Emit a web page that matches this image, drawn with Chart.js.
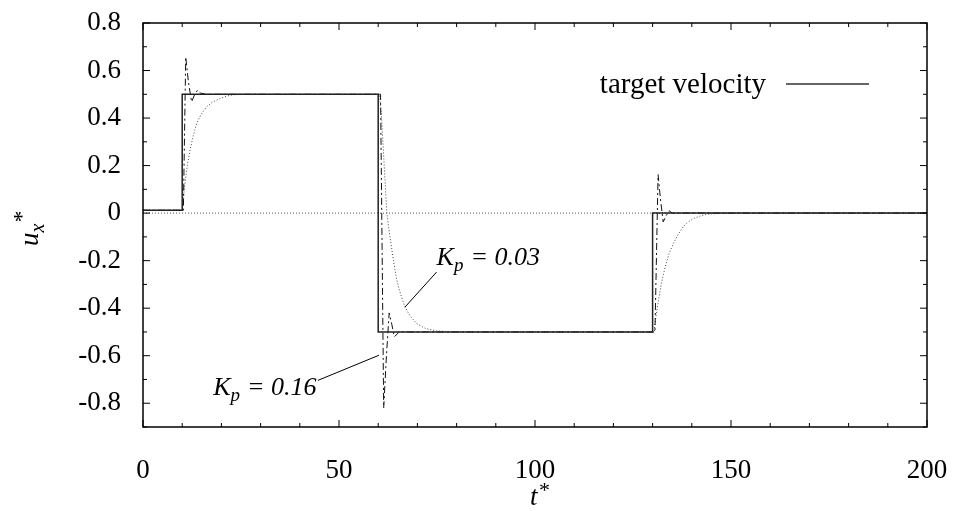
<!DOCTYPE html>
<html>
<head>
<meta charset="utf-8">
<script src="https://cdn.jsdelivr.net/npm/chart.js@4.4.1/dist/chart.umd.min.js"></script>
<style>
  html, body { margin: 0; padding: 0; background: #fff; }
  canvas { display: block; }
</style>
</head>
<body>
<canvas id="velocity" width="955" height="511"></canvas>
<script>
// target velocity step profile
const tTarget = [0, 10, 10, 60, 60, 130, 130, 200];
const uTarget = [0.012, 0.012, 0.5, 0.5, -0.5, -0.5, 0, 0];

// controller response, Kp = 0.16 (dash-dot)
const tFast = [0, 10.3, 10.9, 11.6, 12.4, 13.2, 13.9, 14.7, 16, 60.6, 61.4, 62.1, 62.8, 63.5, 64.1, 64.8, 65.4, 66.5, 130.6, 131.4, 132.0, 132.7, 133.5, 134.2, 135, 200];
const uFast = [0.012, 0.012, 0.657, 0.55, 0.468, 0.5, 0.517, 0.505, 0.5, 0.5, -0.82, -0.6, -0.42, -0.47, -0.52, -0.51, -0.496, -0.5, -0.5, 0.162, 0.06, -0.037, -0.01, 0.01, 0, 0];

// controller response, Kp = 0.03 (dotted)
const tSlow = [0, 10, 10.3, 10.7, 11.3, 12.0, 12.8, 13.7, 14.8, 16.2, 17.8, 19.6, 21.5, 23, 26, 30, 60.3, 60.8, 61.3, 62.2, 63, 63.9, 64.7, 65.5, 66.7, 68, 69.8, 72, 74.9, 80, 130.4, 130.8, 131.5, 132.3, 133.2, 134.2, 135.3, 136.5, 137.8, 139, 140.4, 142.5, 144.6, 150, 200];
const uSlow = [0.012, 0.012, 0.06, 0.124, 0.2, 0.264, 0.325, 0.377, 0.415, 0.447, 0.468, 0.482, 0.493, 0.498, 0.5, 0.5, 0.5, 0.42, 0.27, 0, -0.1, -0.2, -0.28, -0.33, -0.39, -0.43, -0.465, -0.485, -0.496, -0.5, -0.5, -0.44, -0.367, -0.29, -0.227, -0.17, -0.128, -0.09, -0.058, -0.038, -0.023, -0.01, -0.003, 0, 0];

// axis ranges
const xMin = 0, xMax = 200, xStep = 10, xLabelEvery = 50;
const yMin = -0.9, yMax = 0.8, yStep = 0.1;

// curve labels: text anchor and leader line, in data units
const curveLabels = [
  { text: '0.03', at: [74.9, -0.22], from: [74.9, -0.248], to: [66.8, -0.396] },
  { text: '0.16', at: [17.9, -0.765], from: [44.6, -0.704], to: [60.2, -0.598] },
];

const SERIF = '"Liberation Serif", "DejaVu Serif", serif';

const toPoints = (ts, us) => ts.map((t, i) => ({ x: t, y: us[i] }));

// frame, inward ticks, zero axis, labels and legend, gnuplot style
const framePlugin = {
  id: 'frame',
  beforeDatasetsDraw(chart) {
    const { ctx, chartArea: a, scales: { y } } = chart;
    const y0 = y.getPixelForValue(0);
    ctx.save();
    ctx.strokeStyle = '#555';
    ctx.lineWidth = 1;
    ctx.setLineDash([1, 2]);
    ctx.beginPath();
    ctx.moveTo(a.left, y0);
    ctx.lineTo(a.right, y0);
    ctx.stroke();
    ctx.restore();
  },
  afterDatasetsDraw(chart) {
    const { ctx, chartArea: a, scales: { x, y } } = chart;
    ctx.save();
    ctx.strokeStyle = '#000';
    ctx.lineWidth = 1.5;
    ctx.strokeRect(a.left, a.top, a.right - a.left, a.bottom - a.top);

    ctx.lineWidth = 1;
    ctx.beginPath();
    x.ticks.forEach((tk) => {
      const px = x.getPixelForValue(tk.value);
      const len = tk.value % xLabelEvery === 0 ? 7 : 4;
      ctx.moveTo(px, a.bottom); ctx.lineTo(px, a.bottom - len);
      ctx.moveTo(px, a.top); ctx.lineTo(px, a.top + len);
    });
    y.ticks.forEach((tk) => {
      const py = y.getPixelForValue(tk.value);
      const len = Math.round(tk.value * 10) % 2 === 0 ? 7 : 4;
      ctx.moveTo(a.left, py); ctx.lineTo(a.left + len, py);
      ctx.moveTo(a.right, py); ctx.lineTo(a.right - len, py);
    });
    ctx.stroke();

    // curve labels
    ctx.fillStyle = '#000';
    ctx.textBaseline = 'alphabetic';
    ctx.textAlign = 'left';
    curveLabels.forEach((lb) => {
      let px = x.getPixelForValue(lb.at[0]);
      const py = y.getPixelForValue(lb.at[1]);
      ctx.font = 'italic 26px ' + SERIF;
      ctx.fillText('K', px, py);
      px += ctx.measureText('K').width;
      ctx.font = 'italic 19px ' + SERIF;
      ctx.fillText('p', px, py + 6);
      px += ctx.measureText('p').width + 7;
      ctx.font = 'italic 26px ' + SERIF;
      ctx.fillText('= ' + lb.text, px, py);

      ctx.beginPath();
      ctx.moveTo(x.getPixelForValue(lb.from[0]), y.getPixelForValue(lb.from[1]));
      ctx.lineTo(x.getPixelForValue(lb.to[0]), y.getPixelForValue(lb.to[1]));
      ctx.stroke();
    });

    // legend
    ctx.font = '29px ' + SERIF;
    ctx.textAlign = 'right';
    ctx.fillText('target velocity', 766, 93);
    ctx.strokeStyle = '#333';
    ctx.lineWidth = 1.5;
    ctx.beginPath();
    ctx.moveTo(786, 84);
    ctx.lineTo(869, 84);
    ctx.stroke();

    // axis titles
    ctx.textAlign = 'left';
    ctx.font = 'italic 27px ' + SERIF;
    ctx.fillText('t', 530, 505);
    ctx.font = '22px ' + SERIF;
    ctx.fillText('*', 539, 497);

    ctx.translate(38, 246);
    ctx.rotate(-Math.PI / 2);
    ctx.font = 'italic 27px ' + SERIF;
    ctx.fillText('u', 0, 0);
    let w = ctx.measureText('u').width;
    ctx.font = 'italic 20px ' + SERIF;
    ctx.fillText('x', w, 6);
    w += ctx.measureText('x').width;
    ctx.font = '24px ' + SERIF;
    ctx.fillText('*', w + 1, -9);
    ctx.restore();
  },
};

new Chart(document.getElementById('velocity'), {
  type: 'line',
  data: {
    datasets: [
      {
        label: 'target velocity',
        data: toPoints(tTarget, uTarget),
        borderColor: '#222',
        borderWidth: 1.5,
      },
      {
        label: 'Kp = 0.16',
        data: toPoints(tFast, uFast),
        borderColor: '#111',
        borderWidth: 1,
        borderDash: [7, 3, 2, 3],
      },
      {
        label: 'Kp = 0.03',
        data: toPoints(tSlow, uSlow),
        borderColor: '#444',
        borderWidth: 1,
        borderDash: [1, 2],
      },
    ],
  },
  options: {
    responsive: false,
    animation: false,
    events: [],
    elements: { point: { radius: 0 }, line: { tension: 0 } },
    layout: { padding: { top: 23, right: 28, left: 0, bottom: 0 } },
    plugins: { legend: { display: false }, tooltip: { enabled: false } },
    scales: {
      x: {
        type: 'linear',
        min: xMin,
        max: xMax,
        border: { display: false },
        grid: { display: false },
        afterFit: (s) => {
          s.height = 84;
          s.paddingLeft = 0;
          s.paddingRight = 0;
        },
        ticks: {
          stepSize: xStep,
          autoSkip: false,
          maxRotation: 0,
          padding: 20,
          color: '#000',
          font: { family: SERIF, size: 27 },
          callback: (v) => (v % xLabelEvery === 0 ? String(v) : ''),
        },
      },
      y: {
        type: 'linear',
        min: yMin,
        max: yMax,
        border: { display: false },
        grid: { display: false },
        afterFit: (s) => {
          s.width = 143;
          s.paddingTop = 0;
          s.paddingBottom = 0;
        },
        ticks: {
          stepSize: yStep,
          autoSkip: false,
          padding: 14,
          color: '#000',
          font: { family: SERIF, size: 27 },
          callback: (v) => {
            const k = Math.round(v * 10);
            if (k % 2 !== 0) return '';
            return k === 0 ? '0' : (k / 10).toFixed(1);
          },
        },
      },
    },
  },
  plugins: [framePlugin],
});
</script>
</body>
</html>
